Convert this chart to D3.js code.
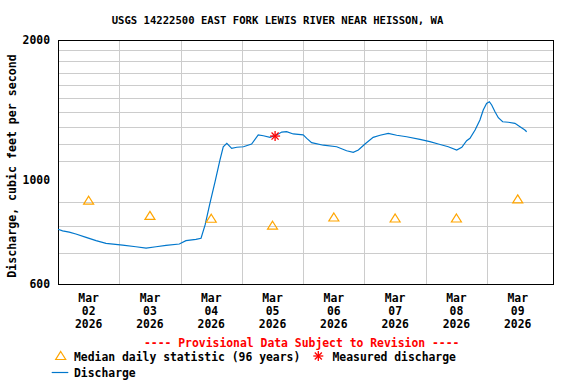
<!DOCTYPE html>
<html><head><meta charset="utf-8">
<script src="https://cdn.jsdelivr.net/npm/d3@7"></script>
<style>body{margin:0;background:#fff}svg{display:block}text{font-family:"DejaVu Sans Mono",monospace;font-weight:bold}</style>
</head><body><svg id="c" width="576" height="384"></svg>
<script>
const title = "USGS 14222500 EAST FORK LEWIS RIVER NEAR HEISSON, WA";
const yLabel = "Discharge, cubic feet per second";
const dayLabels = ["02","03","04","05","06","07","08","09"];
const monthLabel = "Mar";
const yearLabel = "2026";
const yTickLabels = [600, 1000, 2000];
const yGrid = [700, 800, 900, 1100, 1200, 1300, 1400, 1500, 1600, 1700, 1800, 1900];
// hours since Mar 02 00:00
const flowHours = [0,1.8,4.4,7.0,11.0,14.9,18.8,25.3,30.5,34.5,38.4,42.3,47.5,50.1,54.0,56.0,57.6,59.5,61.5,63.4,64.7,66.1,68.0,70.0,72.6,75.8,78.4,80.4,83.0,85.6,87.6,89.5,92.1,96.0,97.4,99.3,103.9,109.1,113.0,115.6,117.6,120.2,123.4,126.1,129.3,132.6,136.5,141.7,145.6,148.9,152.8,156.1,158.1,160.0,161.3,163.3,165.2,166.5,167.8,168.9,169.8,171.1,172.4,174.1,176.3,178.9,180.9,182.8,183.5];
const flowValues = [786,780,775,768,755,743,733,727,721,716,721,726,731,743,748,752,803,894,994,1106,1181,1201,1172,1178,1181,1197,1252,1247,1237,1252,1270,1272,1258,1252,1231,1205,1190,1181,1158,1149,1162,1197,1237,1250,1262,1250,1241,1225,1211,1197,1181,1162,1178,1217,1231,1283,1348,1416,1463,1475,1451,1404,1363,1336,1333,1326,1304,1283,1272];
const medianHours = [12,36,60,84,108,132,156,180];
const medianValues = [905,840,828,800,833,829,829,911];
const measuredHours = [85.0];
const measuredValues = [1245];

const svg = d3.select("#c");
const L=58,R=554,T=40,B=284;
const x = d3.scaleLinear().domain([0,194.2]).range([L,R]);
const y = d3.scaleLog().domain([600,2000]).range([B,T]);

// grid
svg.append("g").selectAll("line").data(yGrid).join("line")
  .attr("x1",L).attr("x2",R).attr("y1",d=>Math.round(y(d))+0.5).attr("y2",d=>Math.round(y(d))+0.5)
  .attr("stroke","#cccccc").attr("stroke-width",1);
svg.append("g").selectAll("line").data(d3.range(1,8)).join("line")
  .attr("x1",d=>Math.round(x(d*24))+0.5).attr("x2",d=>Math.round(x(d*24))+0.5).attr("y1",T).attr("y2",B)
  .attr("stroke","#cccccc").attr("stroke-width",1);
// frame
svg.append("rect").attr("x",L+0.5).attr("y",T+0.5).attr("width",R-L-1).attr("height",B-T)
  .attr("fill","none").attr("stroke","#000").attr("stroke-width",1);

// title
svg.append("text").attr("x",(112+443)/2).attr("y",24).attr("text-anchor","middle")
  .attr("font-size","10.6px").text(title);
// y ticks
svg.append("g").selectAll("text").data(yTickLabels).join("text")
  .attr("x",50).attr("y",d=>y(d)+4).attr("text-anchor","end").attr("font-size","11.4px").text(d=>d);
svg.append("text").attr("transform","translate(16,166) rotate(-90)").attr("text-anchor","middle")
  .attr("font-size","11.6px").text(yLabel);
// x labels
const xl = svg.append("g").selectAll("g").data(dayLabels).join("g")
  .attr("transform",(d,i)=>`translate(${x(i*24+12)},0)`);
xl.append("text").attr("y",301.5).attr("text-anchor","middle").attr("font-size","11.4px").text(monthLabel);
xl.append("text").attr("y",315).attr("text-anchor","middle").attr("font-size","11.4px").text(d=>d);
xl.append("text").attr("y",327.5).attr("text-anchor","middle").attr("font-size","11.4px").text(yearLabel);

// discharge line
const flow = flowHours.map((h,i)=>({h,v:flowValues[i]}));
svg.append("path").datum(flow)
  .attr("d",d3.line().x(d=>x(d.h)).y(d=>y(d.v)))
  .attr("fill","none").attr("stroke","#0077cc").attr("stroke-width",1.2);

// median triangles
function tri(g,cx,cy){
  g.append("path").attr("d",`M${cx},${cy-4.5}L${cx+5},${cy+3.5}L${cx-5},${cy+3.5}Z`)
   .attr("fill","none").attr("stroke","#ffa500").attr("stroke-width",1.2);
}
const mg = svg.append("g");
medianHours.forEach((h,i)=>tri(mg,x(h),y(medianValues[i])));

// measured asterisk
function star(g,cx,cy){
  const r=5;
  for(let k=0;k<4;k++){const a=k*Math.PI/4;
    g.append("line").attr("x1",cx-r*Math.cos(a)).attr("y1",cy-r*Math.sin(a))
     .attr("x2",cx+r*Math.cos(a)).attr("y2",cy+r*Math.sin(a)).attr("stroke","#ff0000").attr("stroke-width",1.3);}
}
const sg = svg.append("g");
measuredHours.forEach((h,i)=>star(sg,x(h),y(measuredValues[i])));

// provisional
svg.append("text").attr("x",301.7).attr("y",346.5).attr("text-anchor","middle")
  .attr("font-size","11.4px").attr("fill","#ff0000").text("---- Provisional Data Subject to Revision ----");
// legend
const lg = svg.append("g");
tri(lg,60.7,356);
lg.append("text").attr("x",74).attr("y",361).attr("font-size","11.4px").text("Median daily statistic (96 years)");
star(lg,318.3,356);
lg.append("text").attr("x",332.5).attr("y",361).attr("font-size","11.4px").text("Measured discharge");
lg.append("line").attr("x1",51.7).attr("x2",68.3).attr("y1",372.5).attr("y2",372.5).attr("stroke","#0077cc").attr("stroke-width",1.2);
lg.append("text").attr("x",74).attr("y",377).attr("font-size","11.4px").text("Discharge");
</script></body></html>
